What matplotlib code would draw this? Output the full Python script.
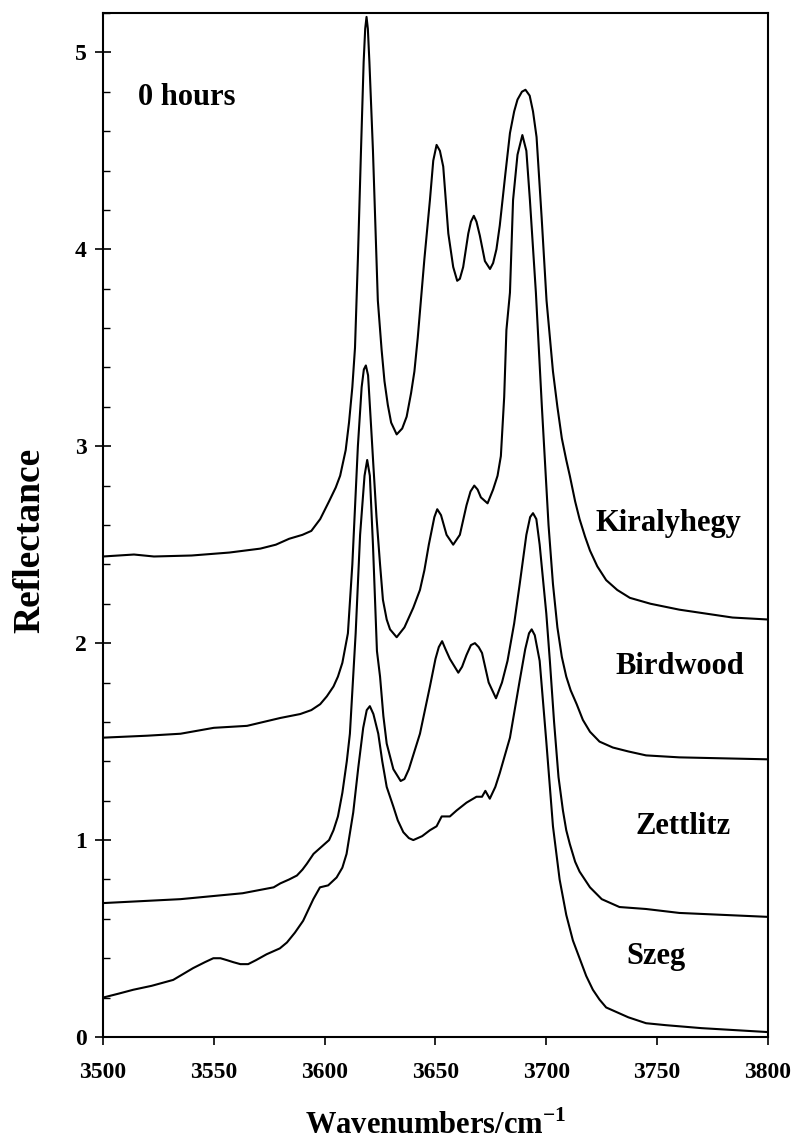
import matplotlib
matplotlib.use("Agg")
import matplotlib.pyplot as plt
from matplotlib.ticker import MultipleLocator

plt.rcParams['font.family'] = ['Liberation Serif', 'DejaVu Serif']
plt.rcParams['font.weight'] = 'bold'
plt.rcParams['mathtext.fontset'] = 'custom'
plt.rcParams['mathtext.rm'] = 'Liberation Serif:bold'
plt.rcParams['mathtext.bf'] = 'Liberation Serif:bold'

# ---- data (wavenumber, reflectance) ----
kiraly_x = [3500, 3507, 3514, 3523, 3540, 3557, 3571, 3578, 3584, 3590, 3594, 3598,
            3602, 3605, 3607, 3609.5, 3611, 3612.5, 3613.7, 3615, 3616.4, 3617.6,
            3618.3, 3618.9, 3619.5, 3620.2, 3621.8, 3624, 3625.7, 3627, 3628.5,
            3630, 3632.5, 3635, 3637, 3639, 3640.5, 3642, 3645, 3647.5, 3649, 3650.5,
            3652, 3653.5, 3655.8, 3658, 3659.8, 3661, 3662.5, 3664.8, 3666, 3667.3,
            3668.5, 3670, 3672.3, 3674.6, 3676, 3677.5, 3679, 3681.5, 3683.6, 3685.5,
            3687, 3689, 3690.6, 3692.5, 3694, 3695.6, 3697.9, 3700.1, 3703, 3705,
            3707, 3709, 3710.6, 3713, 3715, 3717.5, 3719.7, 3723, 3727, 3732, 3737.7,
            3747, 3760, 3772, 3784, 3800]
kiraly_y = [2.44, 2.445, 2.45, 2.44, 2.445, 2.46, 2.48, 2.50, 2.53, 2.55, 2.57, 2.63,
            2.72, 2.79, 2.85, 2.98, 3.12, 3.30, 3.50, 3.95, 4.50, 4.95,
            5.12, 5.18, 5.12, 4.95, 4.50, 3.74, 3.49, 3.33, 3.21,
            3.12, 3.06, 3.09, 3.15, 3.27, 3.38, 3.55, 3.95, 4.25, 4.45, 4.53,
            4.50, 4.42, 4.08, 3.91, 3.84, 3.85, 3.91, 4.08, 4.14, 4.17,
            4.14, 4.07, 3.94, 3.90, 3.93, 4.00, 4.12, 4.38, 4.59, 4.70,
            4.76, 4.80, 4.81, 4.78, 4.70, 4.57, 4.16, 3.74, 3.38, 3.20,
            3.04, 2.93, 2.85, 2.72, 2.63, 2.54, 2.47, 2.39, 2.32, 2.27, 2.23,
            2.20, 2.17, 2.15, 2.13, 2.12]

bird_x = [3500, 3520, 3535, 3550, 3565, 3580, 3589, 3594, 3598, 3601, 3604, 3606,
          3608, 3610.5, 3612.5, 3615, 3616.7, 3617.7, 3618.6, 3619.6, 3620.7, 3622,
          3623.4, 3625, 3626.3, 3628, 3629.5, 3632.5, 3636, 3640, 3643, 3645, 3647,
          3649.5, 3650.8, 3652.5, 3655, 3658, 3661, 3664, 3665.8, 3667.5, 3669,
          3670.5, 3673.5, 3676, 3678, 3679.5, 3681, 3682, 3683.6, 3685, 3687, 3689.2,
          3691, 3692.6, 3695.3, 3698, 3701, 3703, 3705, 3707, 3709, 3711, 3713.7,
          3716.5, 3719.7, 3724, 3730, 3737, 3745, 3760, 3800]
bird_y = [1.52, 1.53, 1.54, 1.57, 1.58, 1.62, 1.64, 1.66, 1.69, 1.73, 1.78, 1.83,
          1.90, 2.05, 2.40, 3.0, 3.30, 3.39, 3.41, 3.36, 3.15, 2.90,
          2.64, 2.40, 2.22, 2.12, 2.07, 2.03, 2.08, 2.18, 2.27, 2.37, 2.50,
          2.64, 2.68, 2.65, 2.55, 2.50, 2.55, 2.70, 2.77, 2.80, 2.78,
          2.74, 2.71, 2.78, 2.85, 2.95, 3.25, 3.59, 3.78, 4.25, 4.48, 4.58,
          4.50, 4.25, 3.78, 3.20, 2.60, 2.30, 2.08, 1.93, 1.83, 1.76, 1.69,
          1.61, 1.55, 1.50, 1.47, 1.45, 1.43, 1.42, 1.41]

zett_x = [3500, 3535, 3563, 3577, 3580, 3584, 3587.5, 3590, 3592, 3595, 3599, 3602,
          3604, 3606, 3608, 3610, 3611.4, 3614, 3616, 3618, 3619.2, 3620.4, 3621.8,
          3623.6, 3625, 3626.5, 3628, 3631, 3634.3, 3636, 3638, 3643, 3647.5, 3650,
          3651.5, 3653, 3654.5, 3656.5, 3660.3, 3662, 3664, 3666, 3667.8, 3669.5,
          3671, 3674, 3677.3, 3680, 3682.5, 3685.5, 3688, 3691, 3692.7, 3694, 3695.5,
          3697, 3700, 3701.6, 3703.5, 3705.5, 3707.5, 3709, 3710.6, 3713, 3715,
          3719.7, 3725, 3733, 3745, 3760, 3800]
zett_y = [0.68, 0.70, 0.73, 0.76, 0.78, 0.80, 0.82, 0.85, 0.88, 0.93, 0.97, 1.0,
          1.05, 1.12, 1.24, 1.40, 1.54, 2.05, 2.55, 2.85, 2.93, 2.85, 2.50,
          1.96, 1.83, 1.63, 1.49, 1.36, 1.30, 1.31, 1.36, 1.54, 1.78, 1.92,
          1.98, 2.01, 1.97, 1.92, 1.85, 1.88, 1.94, 1.99, 2.00, 1.98,
          1.95, 1.80, 1.72, 1.80, 1.91, 2.10, 2.30, 2.55, 2.64, 2.66, 2.63,
          2.50, 2.15, 1.91, 1.60, 1.32, 1.15, 1.05, 0.98, 0.89, 0.84,
          0.76, 0.70, 0.66, 0.65, 0.63, 0.61]

szeg_x = [3500, 3507, 3513.7, 3522, 3531.7, 3540.7, 3546, 3549.8, 3553, 3556,
          3558.8, 3562, 3565.5, 3569, 3573.8, 3579.8, 3583, 3586.6, 3590.3, 3594.9,
          3597.9, 3601.6, 3605.4, 3608, 3609.9, 3612.9, 3615.2, 3617.4, 3619,
          3620.4, 3622, 3624.2, 3626, 3628, 3631, 3633, 3635.5, 3638, 3640, 3644,
          3647.5, 3650.5, 3652.8, 3656.5, 3659.5, 3664, 3668.5, 3671, 3672.5,
          3674.5, 3677, 3679, 3683.6, 3688, 3690.5, 3692.2, 3693.4, 3694.8, 3697,
          3700, 3703, 3706, 3709, 3712, 3715, 3718, 3721, 3724, 3727, 3733, 3737,
          3745, 3754, 3770, 3800]
szeg_y = [0.20, 0.22, 0.24, 0.26, 0.29, 0.35, 0.38, 0.40, 0.40, 0.39,
          0.38, 0.37, 0.37, 0.39, 0.42, 0.45, 0.48, 0.53, 0.59, 0.70,
          0.76, 0.77, 0.81, 0.86, 0.93, 1.14, 1.37, 1.57, 1.66,
          1.68, 1.64, 1.54, 1.40, 1.27, 1.17, 1.10, 1.04, 1.01, 1.00, 1.02,
          1.05, 1.07, 1.12, 1.12, 1.15, 1.19, 1.22, 1.22, 1.25,
          1.21, 1.27, 1.34, 1.52, 1.81, 1.97, 2.05, 2.07, 2.04, 1.91,
          1.50, 1.07, 0.80, 0.62, 0.49, 0.40, 0.31, 0.24, 0.19, 0.15, 0.12, 0.10,
          0.07, 0.06, 0.045, 0.025]

series = [(kiraly_x, kiraly_y), (bird_x, bird_y), (zett_x, zett_y), (szeg_x, szeg_y)]

label_names = ["Kiralyhegy", "Birdwood", "Zettlitz", "Szeg"]
label_x = [3755, 3760, 3761.5, 3749.5]
label_y = [2.61, 1.88, 1.07, 0.41]

x_ticks = [3500, 3550, 3600, 3650, 3700, 3750, 3800]
y_ticks = [0, 1, 2, 3, 4, 5]

fig = plt.figure(figsize=(7.98, 11.47), dpi=100)
ax = fig.add_axes([0.129, 0.0959, 0.8334, 0.8928])

for xs, ys in series:
    ax.plot(xs, ys, color='black', lw=1.5, solid_joinstyle='round')

for name, lx, ly in zip(label_names, label_x, label_y):
    ax.text(lx, ly, name, ha='center', va='center', fontsize=22, fontweight='bold')

ax.text(3538, 4.77, "0 hours", ha='center', va='center', fontsize=22, fontweight='bold')

ax.set_xlim(3500, 3800)
ax.set_ylim(0, 5.2)
ax.set_xticks(x_ticks)
ax.set_yticks(y_ticks)
ax.yaxis.set_minor_locator(MultipleLocator(0.2))
ax.tick_params(axis='x', which='major', direction='out', length=6, width=1.2,
               labelsize=17, pad=12)
ax.tick_params(axis='y', which='major', direction='inout', length=11, width=1.2,
               labelsize=17, pad=6)
ax.tick_params(axis='y', which='minor', direction='in', length=5, width=1.0)
for lab in ax.get_xticklabels() + ax.get_yticklabels():
    lab.set_fontweight('bold')
for sp in ax.spines.values():
    sp.set_linewidth(1.5)

ax.set_xlabel(r"Wavenumbers/cm$^{\mathbf{-1}}$", fontsize=22, fontweight='bold', labelpad=20)
ax.set_ylabel("Reflectance", fontsize=27, fontweight='bold')
ax.yaxis.set_label_coords(-0.083, 0.485)

fig.savefig("out.png", dpi=100)
